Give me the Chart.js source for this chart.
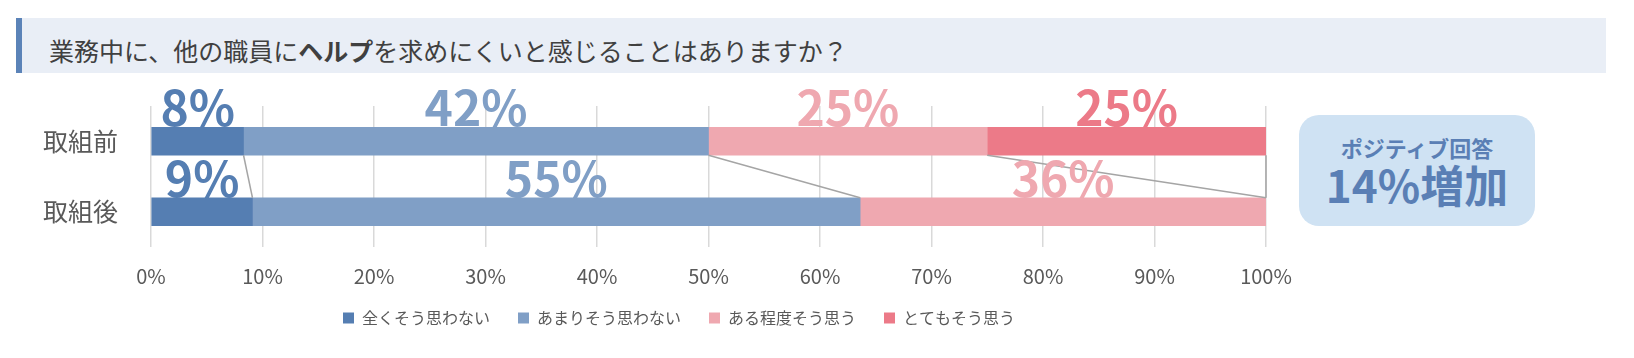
<!DOCTYPE html>
<html lang="ja">
<head>
<meta charset="utf-8">
<title>ヘルプを求めにくいと感じること</title>
<script src="https://cdn.jsdelivr.net/npm/chart.js@4.4.1/dist/chart.umd.min.js"></script>
<style>
  body { margin: 0; background: #fff; font-family: "Noto Sans CJK JP", "Noto Sans", sans-serif; }
  .wrap { position: relative; width: 1634px; height: 358px; overflow: hidden; }
  #helpChart { position: absolute; left: 0; top: 0; }
  .title {
    position: absolute; left: 16px; top: 18px; width: 1590px; height: 55px;
    box-sizing: border-box; background: #e9eef6; border-left: 6px solid #5b83b8;
    padding: 8px 0 0 27px; line-height: 48px; font-size: 25px; color: #404040;
  }
  .title b { font-weight: bold; }
  .callout {
    position: absolute; left: 1299px; top: 115px; width: 236px; height: 111px;
    box-sizing: border-box; padding-top: 18px; border-radius: 20px;
    background: #cfe2f3; color: #5a7fb5; text-align: center; font-weight: bold;
  }
  .callout .l1 { font-size: 22px; line-height: 28px; }
  .callout .l2 { font-size: 44px; line-height: 46px; }
</style>
</head>
<body>
<div class="wrap">
  <canvas id="helpChart" width="1634" height="358"></canvas>
  <div class="title">業務中に、他の職員に<b>ヘルプ</b>を求めにくいと感じることはありますか？</div>
  <div class="callout">
    <div class="l1">ポジティブ回答</div>
    <div class="l2">14%増加</div>
  </div>
</div>
<script>
// 取組前: 1/12, 5/12, 3/12, 3/12  取組後: 1/11, 6/11, 4/11
const categories = ["取組前", "取組後"];
const answers = ["全くそう思わない", "あまりそう思わない", "ある程度そう思う", "とてもそう思う"];
const notAtAll = [8.3, 9.1];
const notReally = [41.7, 54.5];
const somewhat = [25.0, 36.4];
const veryMuch = [25.0, 0];
const tickValues = [0, 10, 20, 30, 40, 50, 60, 70, 80, 90, 100];

const colors = ["#557eb2", "#809fc6", "#efa8b0", "#ec7a88"];
const FONT = '"Noto Sans CJK JP", "Noto Sans", sans-serif';

// series lines between the bars + big value labels above each segment
const barDecor = {
  id: "barDecor",
  afterLayout(chart) {
    // legend sits a bit right of / above where chart.js puts it
    const lg = chart.legend;
    lg.left += 46; lg.right += 46;
    lg.top -= 15; lg.bottom -= 15;
  },
  afterDatasetsDraw(chart) {
    const ctx = chart.ctx;
    ctx.save();
    ctx.strokeStyle = "#a5a5a5";
    ctx.lineWidth = 1.5;
    chart.data.datasets.forEach((ds, i) => {
      const [b0, b1] = chart.getDatasetMeta(i).data;
      ctx.beginPath();
      ctx.moveTo(b0.x, b0.y + b0.height / 2);
      ctx.lineTo(b1.x, b1.y - b1.height / 2);
      ctx.stroke();
    });

    ctx.font = "bold 48px " + FONT;
    ctx.textAlign = "center";
    ctx.textBaseline = "alphabetic";
    chart.data.datasets.forEach((ds, i) => {
      chart.getDatasetMeta(i).data.forEach((bar, j) => {
        const v = ds.data[j];
        if (!v) return;
        ctx.fillStyle = ds.backgroundColor;
        ctx.fillText(Math.round(v) + "%", (bar.x + bar.base) / 2, bar.y - bar.height / 2 - 1);
      });
    });
    ctx.restore();
  }
};

document.addEventListener("DOMContentLoaded", function () {
  const ctx = document.getElementById("helpChart").getContext("2d");
  Chart.defaults.font.family = FONT;

  const series = [notAtAll, notReally, somewhat, veryMuch];

  new Chart(ctx, {
    type: "bar",
    data: {
      labels: categories,
      datasets: series.map((d, i) => ({
        label: answers[i],
        data: d,
        backgroundColor: colors[i],
        borderWidth: 0,
        barThickness: 28
      }))
    },
    options: {
      indexAxis: "y",
      responsive: false,
      animation: false,
      layout: { padding: { top: 106, left: 0, right: 368, bottom: 7 } },
      plugins: {
        tooltip: { enabled: false },
        legend: {
          position: "bottom",
          labels: {
            color: "#595959",
            font: { size: 16 },
            boxWidth: 11,
            boxHeight: 11,
            padding: 28
          }
        }
      },
      scales: {
        x: {
          stacked: true,
          min: 0,
          max: 100,
          afterBuildTicks: (scale) => {
            scale.ticks = tickValues.map((v) => ({ value: v }));
          },
          afterFit: (scale) => { scale.height = 50; },
          ticks: {
            color: "#595959",
            font: { size: 20 },
            padding: 17,
            callback: (v) => v + "%"
          },
          grid: { color: "#d9d9d9", lineWidth: 1.5, drawTicks: false },
          border: { display: false }
        },
        y: {
          stacked: true,
          afterFit: (scale) => { scale.width = 151; },
          ticks: {
            color: "#595959",
            font: { size: 25 },
            padding: 25
          },
          grid: { display: false },
          border: { display: false }
        }
      }
    },
    plugins: [barDecor]
  });
});
</script>
</body>
</html>
